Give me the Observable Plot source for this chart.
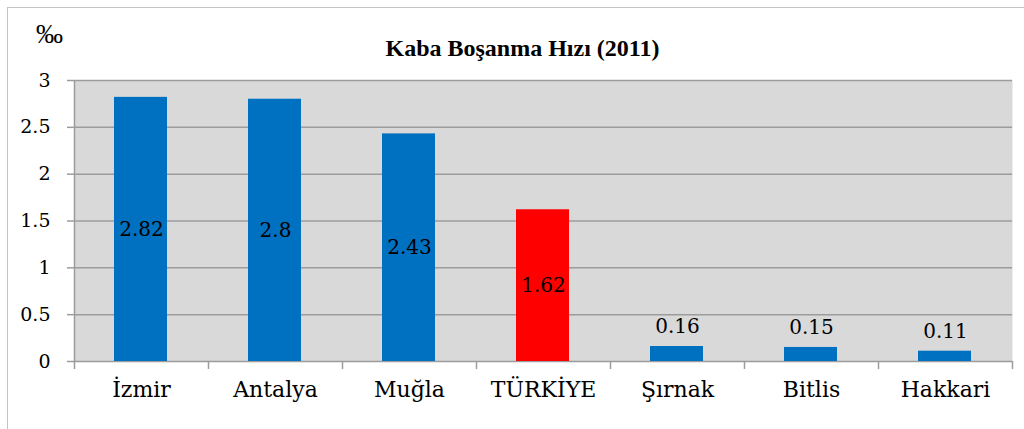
<!DOCTYPE html>
<html><head><meta charset="utf-8">
<script src="https://cdn.jsdelivr.net/npm/d3@7"></script>
<script src="https://cdn.jsdelivr.net/npm/@observablehq/plot@0.6"></script>
<style>
html,body{margin:0;padding:0;overflow:hidden;background:#fff;}
#wrap{position:relative;width:1024px;height:429px;overflow:hidden;}
#border{position:absolute;left:7px;top:7px;width:1040px;height:450px;border:1px solid #c4c4c4;}
#chart{position:absolute;left:0;top:0;}
</style></head><body>
<div id="wrap"><div id="border"></div><div id="chart"></div></div>
<script>
const categories = ["İzmir","Antalya","Muğla","TÜRKİYE","Şırnak","Bitlis","Hakkari"];
const values = [2.82, 2.8, 2.43, 1.62, 0.16, 0.15, 0.11];
const barColors = ["#0070c0","#0070c0","#0070c0","#ff0000","#0070c0","#0070c0","#0070c0"];
const valueLabels = ["2.82","2.8","2.43","1.62","0.16","0.15","0.11"];
const yTicks = [0, 0.5, 1, 1.5, 2, 2.5, 3];
const yTickLabels = ["0","0.5","1","1.5","2","2.5","3"];
const title = "Kaba Boşanma Hızı (2011)";
const unit = "‰";

const data = categories.map((c, i) => ({i, name: c, value: values[i], color: barColors[i], label: valueLabels[i]}));
const inside = data.filter(d => d.value > 1);
const outside = data.filter(d => d.value <= 1);
const serif = "DejaVu Serif";
const gridColor = "#9c9c9c";

const chart = Plot.plot({
  width: 1024, height: 429,
  marginLeft: 74, marginRight: 12, marginTop: 80, marginBottom: 68,
  x: {type: "linear", domain: [0, categories.length], axis: null},
  y: {domain: [0, 3], axis: null},
  color: {type: "identity"},
  style: {fontFamily: serif, overflow: "visible", background: "transparent"},
  marks: [
    Plot.frame({fill: "#d9d9d9", stroke: null}),
    Plot.ruleY(yTicks, {stroke: gridColor, strokeWidth: 1.5}),
    Plot.rectY(data, {x1: "i", x2: d => d.i + 1, y: "value", fill: "color", insetLeft: 40, insetRight: 41}),
    Plot.ruleX([0], {stroke: gridColor, strokeWidth: 1.5}),
    Plot.axisY({ticks: yTicks, tickSize: 7, tickFormat: () => "", label: null, stroke: gridColor, strokeWidth: 1.5}),
    Plot.axisY({ticks: yTicks, tickSize: 0, tickPadding: 24, label: null, tickFormat: d => yTickLabels[yTicks.indexOf(d)], fill: "black", fontSize: 19, fontFamily: serif}),
    Plot.axisX({ticks: d3.range(0, categories.length + 1), tickSize: 8, tickFormat: () => "", label: null, stroke: gridColor, strokeWidth: 1.5}),
    Plot.axisX({ticks: categories.map((_, i) => i + 0.5), tickSize: 0, tickPadding: 20, label: null, tickFormat: d => categories[Math.floor(d)], fill: "black", fontSize: 22, fontFamily: serif}),
    Plot.text(inside, {x: d => d.i + 0.5, y: d => d.value / 2, text: "label", fontSize: 20, fill: "black", fontFamily: serif}),
    Plot.text(outside, {x: d => d.i + 0.5, y: "value", dy: -20, text: "label", fontSize: 20, fill: "black", fontFamily: serif}),
    Plot.text([title], {text: d => d, frameAnchor: "top", lineAnchor: "middle", dx: -21, dy: -32, fontSize: 24, fontWeight: "bold", fontFamily: "Liberation Serif", fill: "black"}),
    Plot.text([unit], {text: d => d, frameAnchor: "top-left", lineAnchor: "middle", textAnchor: "middle", dx: -25, dy: -46, fontSize: 27, fontFamily: "Liberation Serif", fill: "black"})
  ]
});
document.getElementById("chart").appendChild(chart);
</script>
</body></html>
